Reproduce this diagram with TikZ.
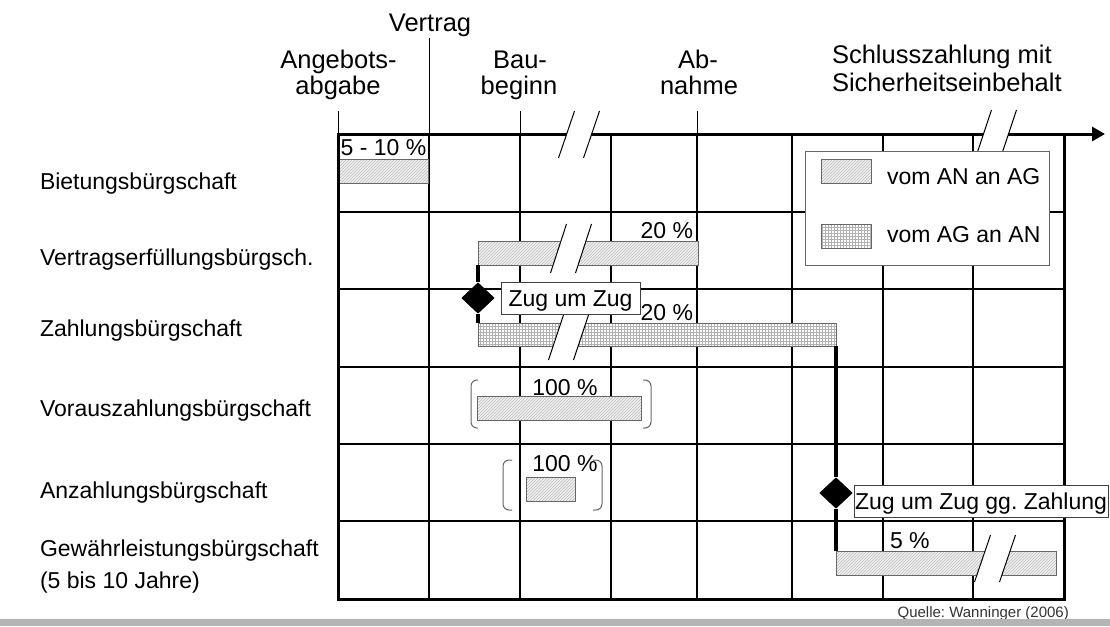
\documentclass[tikz,border=0pt]{standalone}
\usepackage{fontspec}
\setmainfont{Liberation Sans}
\usetikzlibrary{patterns,arrows.meta,shapes.geometric}
\definecolor{bandgray}{RGB}{180,180,180}
\frenchspacing
\newcommand\brkmark[3]{%
  \fill[white] ({#1-4.5},{#2-#3}) -- ({#1+20.5},{#2-#3}) -- ({#1+4.5},{#2+#3}) -- ({#1-20.5},{#2+#3}) -- cycle;
  \draw[slashline] ({#1-4.5},{#2-#3}) -- ({#1-20.5},{#2+#3});
  \draw[slashline] ({#1+20.5},{#2-#3}) -- ({#1+4.5},{#2+#3});
}
\begin{document}
\begin{tikzpicture}[x=1pt,y=-1pt,
  lbl/.style={inner sep=0pt, outer sep=0pt, font=\fontsize{23}{27}\selectfont},
  hdr/.style={inner sep=0pt, outer sep=0pt, font=\fontsize{25.5}{28}\selectfont},
  gridline/.style={line width=1.4pt},
  frameline/.style={line width=3pt},
  tickline/.style={line width=1pt},
  hatchbar/.style={draw=black!60, line width=0.9pt, preaction={fill=gray!10}, pattern=north east lines, pattern color=gray!55, inner sep=0pt, outer sep=0pt, anchor=north west},
  gridbar/.style={draw=black!60, line width=0.9pt, preaction={fill=white}, pattern=grid, pattern color=gray!60, inner sep=0pt, outer sep=0pt, anchor=north west},
  conn/.style={line width=4pt},
  diam/.style={diamond, fill=black, inner sep=0pt, minimum width=33pt, minimum height=31pt},
  tagbox/.style={draw=black!75, line width=0.9pt, fill=white, inner sep=1pt, minimum height=32pt, text height=17pt, text depth=0pt, font=\fontsize{23}{27}\selectfont},
  brack/.style={draw=black!60, line width=1pt, rounded corners=6pt},
  slashline/.style={line width=1pt}
]
\useasboundingbox (0,0) rectangle (1110,626);

% header ticks
\draw[tickline] (338,111) -- (338,134);
\draw[tickline] (429,38) -- (429,134);
\draw[tickline] (520,111) -- (520,134);
\draw[tickline] (697,111) -- (697,134);

% header labels
\node[hdr, anchor=base] (hv) at (430,31.6) {Vertrag};
\node[hdr, anchor=base] (ha1) at (338.5,68.3) {Angebots-};
\node[hdr, anchor=base] (ha2) at (338,94.3) {abgabe};
\node[hdr, anchor=base] (hb1) at (520,68.3) {Bau-};
\node[hdr, anchor=base] (hb2) at (519,94.3) {beginn};
\node[hdr, anchor=base] (hc1) at (698,68.3) {Ab-};
\node[hdr, anchor=base] (hc2) at (699,94.3) {nahme};
\node[hdr, anchor=base west] (hs1) at (832,63.3) {Schlusszahlung mit};
\node[hdr, anchor=base west] (hs2) at (832,91.5) {Sicherheitseinbehalt};

% row labels
\node[lbl, anchor=base west] (r1) at (40,189) {Bietungsbürgschaft};
\node[lbl, anchor=base west] (r2) at (40,265) {Vertragserfüllungsbürgsch.};
\node[lbl, anchor=base west] (r3) at (40,336) {Zahlungsbürgschaft};
\node[lbl, anchor=base west] (r4) at (40,416.5) {Vorauszahlungsbürgschaft};
\node[lbl, anchor=base west] (r5) at (40,498) {Anzahlungsbürgschaft};
\node[lbl, anchor=base west] (r6a) at (40,556.5) {Gewährleistungsbürgschaft};
\node[lbl, anchor=base west] (r6b) at (40,588) {(5 bis 10 Jahre)};

% grid
\foreach \gx in {429,520,611,697,792,883,973}
  \draw[gridline] (\gx,134) -- (\gx,599);
\foreach \gy in {212,289,367,444,521}
  \draw[gridline] (338,\gy) -- (1064,\gy);

% bars
\node[hatchbar, minimum width=90pt, minimum height=24pt] (b1) at (338,159) {};
\node[hatchbar, minimum width=220pt, minimum height=24pt] (b2) at (478,241) {};
\node[gridbar, minimum width=358pt, minimum height=23pt] (b3) at (478,323) {};
\node[hatchbar, minimum width=164pt, minimum height=24pt] (b4) at (477,396) {};
\node[hatchbar, minimum width=49pt, minimum height=24pt] (b5) at (526,477) {};
\node[hatchbar, minimum width=220pt, minimum height=24pt] (b6) at (836,551) {};

% frame with time axis
\draw[frameline, line join=miter, -{Triangle[length=13pt,width=14pt]}]
  (1064,134) -- (1064,599) -- (338,599) -- (338,134) -- (1105,134);

% break marks
\brkmark{579}{134.5}{23.5}
\brkmark{571}{248.5}{24.5}
\brkmark{569}{336}{24}
\brkmark{996}{134}{24}
\brkmark{995}{558.5}{23.5}

% brackets
\draw[brack] (478,380) -- (471,380) -- (471,428) -- (478,428);
\draw[brack] (643,380) -- (651,380) -- (651,428) -- (643,428);
\draw[brack] (512,460) -- (503,460) -- (503,510) -- (512,510);
\draw[brack] (593,460) -- (602,460) -- (602,510) -- (593,510);

% legend
\node[draw=black!60, line width=0.9pt, fill=white, inner sep=0pt, anchor=north west, minimum width=244pt, minimum height=114pt] (leg) at (805,151) {};
\node[hatchbar, minimum width=50pt, minimum height=24pt] (s1) at (821,159) {};
\node[gridbar, minimum width=50pt, minimum height=24pt] (s2) at (821,224) {};
\node[lbl, anchor=base west] (l1) at (887,184) {vom AN an AG};
\node[lbl, anchor=base west] (l2) at (887,242.5) {vom AG an AN};

% percentages
\node[lbl, anchor=base] (p1) at (383.5,155) {5 - 10 \%};
\node[lbl, anchor=base east] (p2) at (693,238) {20 \%};
\node[lbl, anchor=base east] (p3) at (693,320) {20 \%};
\node[lbl, anchor=base] (p4) at (565,395) {100 \%};
\node[lbl, anchor=base] (p5) at (565,471.5) {100 \%};
\node[lbl, anchor=base west] (p6) at (890,548) {5 \%};

% connectors with diamonds
\node[diam] (d1) at (478,298) {};
\node[diam] (d2) at (836,493) {};
\draw[conn] (b2.south west) -- (d1);
\draw[conn] (d1) -- (b3.north west);
\draw[conn] (b3.south east) -- (d2);
\draw[conn] (d2) -- (b6.north west);
\node[diam] at (d1) {};
\node[diam] at (d2) {};

% tag boxes
\node[tagbox, minimum width=139pt] (z1) at (570.5,298) {Zug um Zug};
\node[tagbox, minimum width=254pt] (z2) at (981,501) {Zug um Zug gg. Zahlung};

% source and band
\node[inner sep=0pt, anchor=base east, font=\fontsize{15}{18}\selectfont, text=black!80] (src) at (1069,617) {Quelle: Wanninger (2006)};
\fill[bandgray] (0,619) rectangle (1110,626);
\end{tikzpicture}
\end{document}
